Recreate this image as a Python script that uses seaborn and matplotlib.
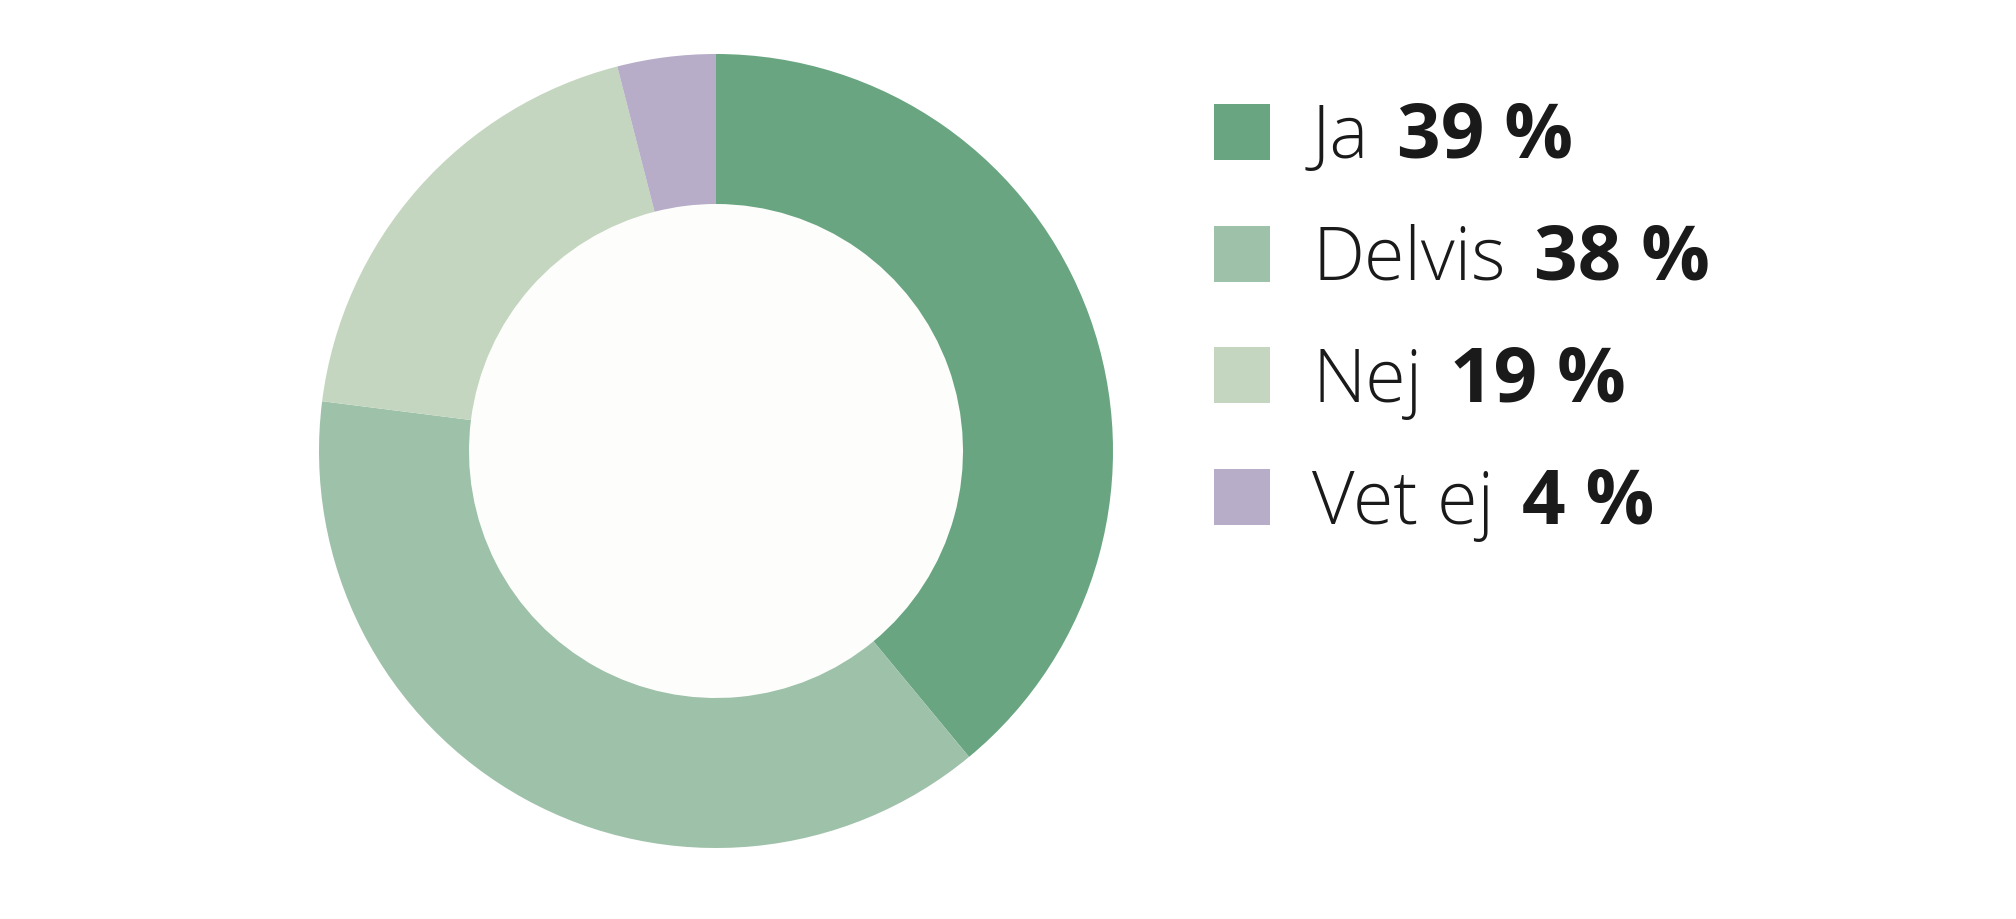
import matplotlib
matplotlib.use("Agg")
import matplotlib.pyplot as plt
from matplotlib.patches import Rectangle, Circle
import seaborn as sns

categories = ["Ja", "Delvis", "Nej", "Vet ej"]
values = [39, 38, 19, 4]
value_labels = ["39 %", "38 %", "19 %", "4 %"]
colors = ["#68A580", "#9EC1A9", "#C4D6BF", "#B7ADC8"]

sns.set_theme(style="white")
plt.rcParams["font.family"] = ["Open Sans", "DejaVu Sans"]

W, H = 2016, 920
fig = plt.figure(figsize=(W / 100, H / 100), dpi=100)
fig.patch.set_facecolor("white")

cx, cy, R, r_in = 716, 452, 397, 247
ax = fig.add_axes([(cx - R) / W, (H - cy - R) / H, 2 * R / W, 2 * R / H])
pal = sns.color_palette(colors)
ax.pie(values, colors=pal, startangle=90, counterclock=False, radius=1.0,
       wedgeprops=dict(width=1 - r_in / R, linewidth=0, antialiased=True))
ax.add_patch(Circle((0, 0), r_in / R, facecolor="#FDFEFB", edgecolor="none", zorder=0))
ax.set_xlim(-1, 1)
ax.set_ylim(-1, 1)
ax.set_aspect("equal")
ax.axis("off")

# legend
sq_x, sq_size = 1214, 56
sq_tops = [105, 227, 348, 470]
baselines = [158, 280, 402, 524]
text_x = 1312
renderer = fig.canvas.get_renderer()
for cat, lab, col, top, base in zip(categories, value_labels, colors, sq_tops, baselines):
    fig.patches.append(Rectangle((sq_x / W, (H - top - sq_size) / H), sq_size / W, sq_size / H,
                                 transform=fig.transFigure, facecolor=col, edgecolor="none"))
    t1 = fig.text(text_x / W, (H - base) / H, cat, fontsize=53, fontweight=300,
                  color="#1a1a1a", va="baseline", ha="left")
    bb = t1.get_window_extent(renderer=renderer)
    fig.text((bb.x1 + 28) / W, (H - base) / H, lab, fontsize=55, fontweight="bold",
             color="#1a1a1a", va="baseline", ha="left")

fig.savefig("out.png", dpi=100, facecolor="white")
